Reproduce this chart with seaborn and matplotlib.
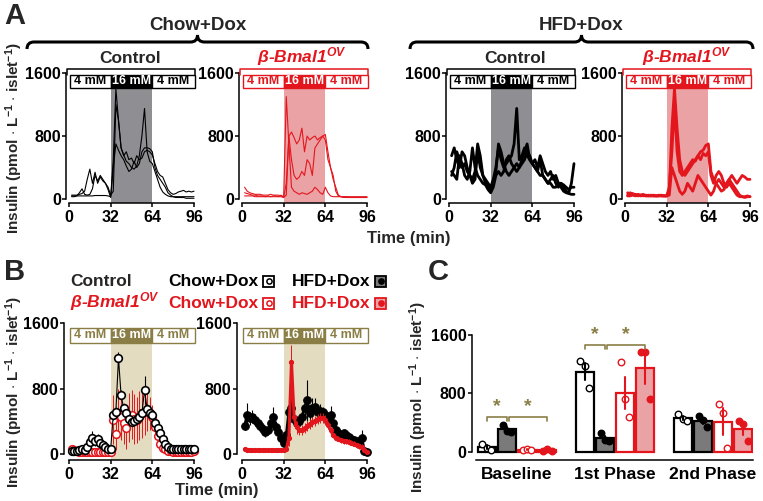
import matplotlib
matplotlib.use('Agg')
import numpy as np
import pandas as pd
import matplotlib.pyplot as plt
import seaborn as sns
from matplotlib.patches import Rectangle, PathPatch
from matplotlib.path import Path

# ---------------- data ----------------
time_min = list(range(2, 97, 2))

# Panel A: individual islet perifusion traces
chow_ctrl_trace1 = [40,40,40,40,40,40,40,40,40,45,45,45,45,45,40,
                    30,500,1400,1000,650,560,480,450,400,380,420,550,800,1150,600,480,450,
                    350,250,150,90,60,40,30,30,30,30,30,30,30,30,30,30]
chow_ctrl_trace2 = [50,50,50,60,70,100,250,380,200,340,200,280,230,200,150,
                    50,100,1200,1000,650,550,600,500,520,450,550,500,520,600,620,600,560,
                    450,350,300,280,200,120,80,60,70,90,100,110,90,100,90,100]
chow_ctrl_trace3 = [30,30,40,80,130,60,50,60,130,300,230,300,250,200,120,
                    20,400,700,620,550,500,420,350,380,480,400,450,600,650,650,640,600,
                    400,300,250,200,150,80,50,30,20,20,20,20,10,10,10,10]

chow_bmal_trace1 = [150,100,80,70,60,60,60,50,50,50,60,50,50,50,40,
                    30,1300,700,150,100,80,60,80,70,60,80,100,150,120,80,60,150,
                    80,40,30,30,30,30,30,30,30,30,30,30,30,30,30,30]
chow_bmal_trace2 = [80,70,60,50,50,40,40,40,30,40,30,40,40,30,50,
                    20,50,800,850,780,700,750,900,600,800,750,780,800,750,780,800,820,
                    600,400,250,150,50,30,20,20,20,20,20,20,20,20,20,20]
chow_bmal_trace3 = [40,40,40,40,30,30,30,30,30,30,30,30,30,30,30,
                    20,200,800,500,300,250,280,350,300,500,450,300,650,700,750,800,750,
                    500,400,300,100,40,30,30,30,20,20,20,20,20,20,20,20]

hfd_ctrl_trace1 = [550,650,500,400,600,550,400,300,250,350,700,550,300,250,200,150,
                   250,400,650,500,400,450,500,550,700,1150,500,550,650,550,500,450,
                   400,350,500,300,250,200,250,300,200,150,200,150,100,80,200,450]
hfd_ctrl_trace2 = [300,400,600,500,400,450,350,300,200,250,600,400,300,200,150,100,
                   200,350,700,600,450,350,300,350,400,450,400,500,600,700,500,450,
                   500,400,550,450,350,300,350,250,300,200,150,100,80,70,60,60]
hfd_ctrl_trace3 = [350,300,250,550,450,300,250,350,650,400,300,250,200,180,120,80,
                   150,300,350,300,350,500,550,450,400,350,400,450,500,600,550,450,
                   400,350,300,300,250,200,200,150,150,200,200,180,150,120,150,150]

hfd_bmal_trace1 = [80,60,70,50,60,50,60,40,50,40,50,40,50,40,40,40,
                   100,900,1400,900,500,350,300,350,400,450,500,550,600,620,680,700,
                   350,250,200,150,100,120,200,250,200,150,100,50,30,20,30,30]
hfd_bmal_trace2 = [50,80,60,60,40,50,40,50,40,50,40,40,40,50,40,40,
                   150,600,1200,600,350,300,350,400,450,500,480,550,500,580,550,600,
                   300,200,300,350,300,200,150,200,150,100,50,30,30,30,40,30]
hfd_bmal_trace3 = [40,40,50,40,50,40,50,40,40,40,40,40,40,40,40,40,
                   50,400,300,200,100,60,100,200,150,100,200,300,250,200,150,100,
                   50,100,200,250,200,150,200,250,300,250,200,250,300,280,250,250]

# Panel B: mean +/- SEM
chow_ctrl_mean = [40,40,45,50,60,50,90,150,200,160,190,140,110,90,70,60,
                  480,520,1170,720,560,500,430,390,400,430,450,500,780,550,500,480,
                  380,320,260,190,130,90,70,60,60,60,60,60,70,60,70,60]
chow_ctrl_sem = [10,10,10,15,20,20,40,60,80,60,60,50,40,30,20,20,
                 60,60,80,60,50,40,40,40,40,40,50,60,170,60,50,50,
                 40,40,40,30,20,20,15,10,10,10,10,10,10,10,10,10]
chow_bmal_mean = [70,50,40,30,30,30,30,30,30,30,30,30,30,30,30,30,
                  420,250,500,450,380,320,450,480,430,420,470,500,520,530,500,450,
                  330,220,130,80,60,40,40,30,30,30,30,30,30,30,30,40]
chow_bmal_sem = [10,10,10,10,10,10,10,10,10,10,10,10,10,10,10,10,
                 300,200,300,280,250,250,300,300,300,280,300,300,280,250,200,150,
                 100,80,50,30,20,10,10,10,10,10,10,10,10,10,10,10]
hfd_ctrl_mean = [350,480,440,460,420,380,350,310,270,290,380,460,330,270,200,140,
                 230,520,560,430,380,400,460,560,660,500,560,580,520,530,510,480,
                 400,480,380,300,260,240,260,230,210,190,170,160,140,200,40,30]
hfd_ctrl_sem = [60,150,80,80,70,60,50,50,60,60,80,110,70,60,50,40,
                80,150,120,80,70,80,90,120,250,100,120,100,80,80,70,60,
                60,110,70,50,50,40,40,40,40,40,40,40,40,100,20,20]
hfd_bmal_mean = [60,55,55,50,50,50,50,50,50,50,50,50,50,50,50,50,
                 60,200,1130,450,330,290,300,320,340,370,390,410,430,440,440,420,
                 360,290,230,200,190,170,160,160,150,140,130,110,100,90,50,30]
hfd_bmal_sem = [15,15,15,15,15,15,15,15,15,15,15,15,15,15,15,15,
                20,100,200,100,80,60,60,60,60,60,60,60,60,60,60,60,
                50,40,30,30,30,30,30,30,30,30,30,30,30,30,20,10]

# Panel C: per-mouse values (Baseline, 1st Phase, 2nd Phase)
phases = ['Baseline', '1st Phase', '2nd Phase']
groups = ['Chow Control', 'HFD Control', 'Chow Bmal1', 'HFD Bmal1']
chow_ctrl_pts = [[110, 60, 25], [1250, 1170, 880], [520, 450, 420]]
hfd_ctrl_pts = [[370, 285, 275], [255, 160, 150], [490, 435, 345]]
chow_bmal_pts = [[20, 40, 25], [1230, 720, 480], [660, 535, 55]]
hfd_bmal_pts = [[10, 45, 10], [1365, 1365, 720], [430, 380, 145]]

glucose_labels = ['4 mM', '16 mM', '4 mM']
glucose_edges = [0.5, 32, 64, 96.5]

# ---------------- style ----------------
sns.set_theme(style='ticks')
plt.rcParams['font.family'] = ['Liberation Sans', 'DejaVu Sans']
plt.rcParams['font.weight'] = 'bold'
plt.rcParams['axes.labelweight'] = 'bold'
plt.rcParams['axes.edgecolor'] = 'black'
plt.rcParams['axes.linewidth'] = 1.1
plt.rcParams['xtick.color'] = 'black'
plt.rcParams['ytick.color'] = 'black'
plt.rcParams['mathtext.fontset'] = 'custom'
plt.rcParams['mathtext.rm'] = 'Liberation Sans:bold'
plt.rcParams['mathtext.it'] = 'Liberation Sans:italic:bold'
plt.rcParams['mathtext.bf'] = 'Liberation Sans:bold'

RED = '#e3161d'
PINK = '#eba2a5'
GRAY_SHADE = '#8e8e93'
GRAY_BAR = '#7a7a7a'
OLIVE = '#8a7e46'
TAN = '#e4dcc0'

W, H = 763, 501
fig = plt.figure(figsize=(W / 100, H / 100), dpi=100)

deco = fig.add_axes([0, 0, 1, 1])
deco.set_xlim(0, W)
deco.set_ylim(H, 0)
deco.axis('off')

PXM = 125 / 96  # px per minute


def ts_axes(x0px, ytop, ybot, ylo, xl):
    left = x0px + xl * PXM
    width = (97 - xl) * PXM
    ax = fig.add_axes([left / W, 1 - ybot / H, width / W, (ybot - ytop) / H])
    ax.set_xlim(xl, 97)
    ax.set_ylim(ylo, 1600)
    ax.set_xticks([0, 32, 64, 96])
    ax.set_yticks([0, 800, 1600])
    ax.spines['top'].set_visible(False)
    ax.spines['right'].set_visible(False)
    ax.spines['bottom'].set_bounds(0, 96)
    ax.spines['left'].set_bounds(0, 1600)
    ax.tick_params(axis='both', length=3, width=1.1, pad=1, labelsize=11.5)
    ax.tick_params(axis='x', pad=2)
    ax.patch.set_alpha(0)
    return ax


def glucose_box(ax, y0, y1, col, lw=1.0):
    for i, lab in enumerate(glucose_labels):
        a, b = glucose_edges[i], glucose_edges[i + 1]
        hi = (i == 1)
        ax.add_patch(Rectangle((a, y0), b - a, y1 - y0, facecolor=col if hi else 'white',
                               edgecolor=col, lw=lw, clip_on=False, zorder=6))
        ax.text((a + b) / 2, (y0 + y1) / 2, lab, ha='center', va='center',
                color='white' if hi else col, fontsize=9, fontweight='bold',
                zorder=7, clip_on=False)


def brace(x0, x1, y, h, lw=2.2):
    xm = (x0 + x1) / 2
    verts = [(x0, y + h), (x0, y), (x0 + h, y), (xm - h, y), (xm, y), (xm, y - h),
             (xm, y), (xm + h, y), (x1 - h, y), (x1, y), (x1, y + h)]
    codes = [Path.MOVETO, Path.CURVE3, Path.CURVE3, Path.LINETO, Path.CURVE3, Path.CURVE3,
             Path.CURVE3, Path.CURVE3, Path.LINETO, Path.CURVE3, Path.CURVE3]
    deco.add_patch(PathPatch(Path(verts, codes), facecolor='none', edgecolor='black', lw=lw))


BMAL = r'$\beta$-Bmal1$^{OV}$'
ylab = r'Insulin (pmol $\cdot$ L$^{-1}$ $\cdot$ islet$^{-1}$)'

# ---------------- Panel A ----------------
A_specs = [
    (69, [chow_ctrl_trace1, chow_ctrl_trace2, chow_ctrl_trace3], 'black', GRAY_SHADE, 0.8),
    (242, [chow_bmal_trace1, chow_bmal_trace2, chow_bmal_trace3], RED, PINK, 0.8),
    (449, [hfd_ctrl_trace1, hfd_ctrl_trace2, hfd_ctrl_trace3], 'black', GRAY_SHADE, 2.0),
    (625, [hfd_bmal_trace1, hfd_bmal_trace2, hfd_bmal_trace3], RED, PINK, 2.0),
]
for x0, traces, col, shade, lw in A_specs:
    ax = ts_axes(x0, 73, 203, -50, -2)
    ax.fill_between([32, 64], -50, 1410, color=shade, lw=0, zorder=0)
    for tr in traces:
        sns.lineplot(x=time_min, y=tr, ax=ax, color=col, lw=lw, clip_on=False, zorder=3)
    glucose_box(ax, 1410, 1575, col)
    ax.plot([-1.5, -1.5, 96.5, 96.5], [1575, 1650, 1650, 1575], color=col, lw=1.1,
            clip_on=False, zorder=6)

brace(27, 368, 42, 7)
brace(410, 753, 42, 7)
deco.text(198, 25, 'Chow+Dox', ha='center', va='center', fontsize=13.5, fontweight='heavy')
deco.text(581, 25, 'HFD+Dox', ha='center', va='center', fontsize=13.5, fontweight='heavy')
deco.text(130, 58, 'Control', ha='center', va='center', fontsize=12.5, fontweight='bold')
deco.text(515, 58, 'Control', ha='center', va='center', fontsize=12.5, fontweight='bold')
deco.text(302, 57, BMAL, ha='center', va='center', fontsize=12.5, color=RED,
          fontweight='bold', fontstyle='italic')
deco.text(687, 57, BMAL, ha='center', va='center', fontsize=12.5, color=RED,
          fontweight='bold', fontstyle='italic')
deco.text(409, 238, 'Time (min)', ha='center', va='center', fontsize=12, fontweight='bold')
deco.text(14, 138, ylab, ha='center', va='center', rotation=90, fontsize=11, fontweight='bold')
deco.text(4, 16, 'A', ha='left', va='center', fontsize=21, fontweight='bold')

# ---------------- Panel B ----------------
t = np.array(time_min)
axB1 = ts_axes(69, 323, 460, -70, -3.8)
axB1.fill_between([32, 64], -70, 1360, color=TAN, lw=0, zorder=0)
glucose_box(axB1, 1360, 1540, OLIVE)
m, s = np.array(chow_bmal_mean), np.array(chow_bmal_sem)
axB1.vlines(t, m - s, m + s, color=RED, lw=0.7, zorder=2)
sns.lineplot(x=time_min, y=chow_bmal_mean, ax=axB1, color=RED, lw=0, marker='o', ms=5.5,
             mfc='white', mec=RED, mew=1.1, zorder=3, clip_on=False)
m, s = np.array(chow_ctrl_mean), np.array(chow_ctrl_sem)
axB1.vlines(t, m - s, m + s, color='black', lw=0.8, zorder=4)
sns.lineplot(x=time_min, y=chow_ctrl_mean, ax=axB1, color='black', lw=0.8, marker='o', ms=5.5,
             mfc='white', mec='black', mew=1.2, zorder=5, clip_on=False)

axB2 = ts_axes(242, 323, 460, -70, -3.8)
axB2.fill_between([32, 64], -70, 1360, color=TAN, lw=0, zorder=0)
glucose_box(axB2, 1360, 1540, OLIVE)
m, s = np.array(hfd_ctrl_mean), np.array(hfd_ctrl_sem)
axB2.vlines(t, m - s, m + s, color='black', lw=0.8, zorder=2)
sns.lineplot(x=time_min, y=hfd_ctrl_mean, ax=axB2, color='black', lw=2.0, marker='o', ms=5.5,
             mfc='black', mec='black', zorder=3, clip_on=False)
m, s = np.array(hfd_bmal_mean), np.array(hfd_bmal_sem)
axB2.vlines(t, m - s, m + s, color=RED, lw=0.7, zorder=4)
sns.lineplot(x=time_min, y=hfd_bmal_mean, ax=axB2, color=RED, lw=2.2, marker='o', ms=3,
             mfc=RED, mec=RED, zorder=5, clip_on=False)

deco.text(4, 272, 'B', ha='left', va='center', fontsize=21, fontweight='bold')
deco.text(14, 392, ylab, ha='center', va='center', rotation=90, fontsize=11, fontweight='bold')
deco.text(217, 490, 'Time (min)', ha='center', va='center', fontsize=12, fontweight='bold')

# legend for B
deco.text(70, 281, 'Control', ha='left', va='center', fontsize=12.5, fontweight='bold')
deco.text(70, 302, BMAL, ha='left', va='center', fontsize=12.5, color=RED,
          fontweight='bold', fontstyle='italic')
leg_items = [
    (258, 281, 'Chow+Dox', 'black', 'white', 'white'),
    (370, 281, 'HFD+Dox', 'black', GRAY_BAR, 'black'),
    (258, 303, 'Chow+Dox', RED, 'white', 'white'),
    (370, 303, 'HFD+Dox', RED, PINK, RED),
]
for xr, yc, lab, col, sq_fc, dot_fc in leg_items:
    deco.text(xr, yc, lab, ha='right', va='center', fontsize=12.5, fontweight='bold', color=col)
    deco.add_patch(Rectangle((xr + 5, yc - 5.5), 11, 11, facecolor=sq_fc, edgecolor=col, lw=1.3))
    deco.scatter([xr + 10.5], [yc], s=14, facecolor=dot_fc, edgecolor=col, lw=1.1, zorder=5)

# ---------------- Panel C ----------------
rows = []
for g, pts in zip(groups, [chow_ctrl_pts, hfd_ctrl_pts, chow_bmal_pts, hfd_bmal_pts]):
    for ph, vals in zip(phases, pts):
        for v in vals:
            rows.append({'phase': ph, 'group': g, 'insulin': v})
dfC = pd.DataFrame(rows)

face_cols = ['white', GRAY_BAR, 'white', PINK]
edge_cols = ['black', 'black', RED, RED]
point_face = ['white', 'black', 'white', RED]

axC = fig.add_axes([472 / W, 1 - 460 / H, 281 / W, 125 / H])
sns.barplot(data=dfC, x='phase', y='insulin', hue='group', order=phases, hue_order=groups,
            palette=face_cols, errorbar='se', width=0.82, gap=0.12, linewidth=1.6,
            edgecolor='black', capsize=0, err_kws={'linewidth': 1.5}, legend=False,
            saturation=1, ax=axC)
for i, cont in enumerate(axC.containers):
    for bar in cont:
        bar.set_edgecolor(edge_cols[i])
for j, ln in enumerate(axC.lines):
    ln.set_color(edge_cols[j // 3])
    ln.set_zorder(6)

hue_off = [-0.3075, -0.1025, 0.1025, 0.3075]
rep_dx = [-0.045, 0.0, 0.045]
for gi, pts in enumerate([chow_ctrl_pts, hfd_ctrl_pts, chow_bmal_pts, hfd_bmal_pts]):
    for pi, vals in enumerate(pts):
        xs = [pi + hue_off[gi] + d for d in rep_dx]
        axC.scatter(xs, vals, s=22, facecolor=point_face[gi], edgecolor=edge_cols[gi],
                    lw=1.0, zorder=5, clip_on=False)

axC.set_xlim(-0.459, 2.408)
axC.set_ylim(-110, 1600)
axC.set_yticks([0, 800, 1600])
axC.set_xticks([0, 1, 2])
axC.set_xticklabels(phases, fontsize=12.5, fontweight='bold')
axC.spines['top'].set_visible(False)
axC.spines['right'].set_visible(False)
axC.spines['left'].set_bounds(0, 1600)
axC.spines['bottom'].set_bounds(-0.418, 2.408)
axC.tick_params(axis='y', length=3, width=1.1, pad=1, labelsize=11.5)
axC.tick_params(axis='x', length=0, pad=5)
axC.set_xlabel('')
axC.set_ylabel(ylab, fontsize=11, fontweight='bold', labelpad=1)
axC.patch.set_alpha(0)

# significance brackets
sig = [(0, -0.3075, -0.1025, 480), (0, -0.085, 0.3075, 480),
       (1, -0.3075, -0.1025, 1466), (1, -0.085, 0.3075, 1466)]
for gp, a, b, yb in sig:
    axC.plot([gp + a, gp + a, gp + b, gp + b], [yb - 60, yb, yb, yb - 60], color=OLIVE,
             lw=1.2, clip_on=False, zorder=7)
    axC.text(gp + (a + b) / 2, yb + 20, '*', ha='center', va='bottom', fontsize=14,
             color=OLIVE, fontweight='bold')

deco.text(428, 272, 'C', ha='left', va='center', fontsize=21, fontweight='bold')

fig.savefig('out.png', dpi=100)
